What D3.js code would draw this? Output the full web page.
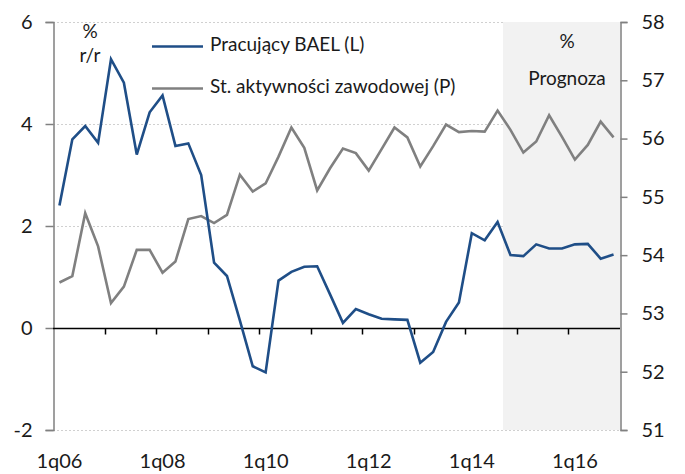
<!DOCTYPE html>
<html>
<head>
<meta charset="utf-8">
<script src="https://cdn.jsdelivr.net/npm/d3@7"></script>
<style>
  html, body { margin: 0; padding: 0; background: #fff; }
  svg { display: block; font-family: Lato, "Noto Sans", sans-serif; }
</style>
</head>
<body>
<svg id="chart" width="685" height="474"></svg>
<script>
// ---- data ----
const years = ["06","07","08","09","10","11","12","13","14","15","16"];
const quarters = ["1q","2q","3q","4q"];
const categories = [];
years.forEach(y => quarters.forEach(q => categories.push(q + y)));

const pracujacyBAEL = [
  2.40, 3.70, 3.96, 3.63, 5.27, 4.81, 3.40, 4.23, 4.56, 3.57, 3.62, 3.00,
  1.28, 1.02, 0.15, -0.75, -0.87, 0.93, 1.10, 1.20, 1.21, 0.66, 0.10, 0.37,
  0.27, 0.18, 0.17, 0.16, -0.68, -0.47, 0.12, 0.50, 1.86, 1.72, 2.08, 1.43,
  1.41, 1.64, 1.56, 1.56, 1.64, 1.65, 1.36, 1.44
];
const aktywnosc = [
  53.53, 53.64, 54.72, 54.15, 53.18, 53.46, 54.09, 54.09, 53.70, 53.89, 54.62, 54.67,
  54.55, 54.69, 55.38, 55.09, 55.23, 55.69, 56.19, 55.84, 55.11, 55.49, 55.83, 55.75,
  55.45, 55.82, 56.19, 56.02, 55.52, 55.87, 56.24, 56.11, 56.13, 56.12, 56.48, 56.15,
  55.76, 55.95, 56.40, 56.03, 55.64, 55.89, 56.29, 56.02
];
const leftTicks = [-2, 0, 2, 4, 6];
const rightTicks = [51, 52, 53, 54, 55, 56, 57, 58];
const xLabels = ["1q06", "1q08", "1q10", "1q12", "1q14", "1q16"];
const forecastStart = "4q14";
const seriesNames = ["Pracujący BAEL (L)", "St. aktywności zawodowej (P)"];

// ---- layout ----
const X0 = 53, X1 = 620, Y0 = 22, Y1 = 430;
const BLUE = "#1f4e87", GRAY = "#808080";

const svg = d3.select("#chart");
const x = d3.scaleBand().domain(categories).range([X0, X1]).padding(0);
const yL = d3.scaleLinear().domain([-2, 6]).range([Y1, Y0]);
const yR = d3.scaleLinear().domain([51, 58]).range([Y1, Y0]);
const cx = c => x(c) + x.bandwidth() / 2;
const fmt = d => String(d);

// gridlines
svg.append("g").selectAll("line").data(leftTicks.filter(d => d !== 0)).join("line")
  .attr("x1", X0).attr("x2", X1)
  .attr("y1", d => yL(d) + 0.5).attr("y2", d => yL(d) + 0.5)
  .attr("stroke", "#d0d0d0").attr("stroke-width", 1).attr("stroke-dasharray", "2,2");

// forecast shading
svg.append("rect")
  .attr("x", x(forecastStart) - 1).attr("y", Y0)
  .attr("width", X1 - x(forecastStart) + 1).attr("height", Y1 - Y0)
  .attr("fill", "#f2f2f2");

// shaded label
svg.append("text").attr("x", 567).attr("y", 43).attr("text-anchor", "middle")
  .attr("dominant-baseline", "middle").attr("font-size", 19).attr("fill", "#1a1a1a").text("%");
svg.append("text").attr("x", 567).attr("y", 80).attr("text-anchor", "middle")
  .attr("dominant-baseline", "middle").attr("font-size", 19).attr("fill", "#1a1a1a").text("Prognoza");

// left axis
const axL = svg.append("g").attr("transform", `translate(${X0 + 0.5},0)`)
  .call(d3.axisLeft(yL).tickValues(leftTicks).tickSize(8).tickPadding(13).tickFormat(fmt));
axL.select(".domain").attr("stroke", GRAY).attr("stroke-width", 1.5);
axL.selectAll(".tick line").attr("stroke", GRAY).attr("stroke-width", 1.5);
axL.selectAll("text").attr("font-size", 20).attr("fill", "#1a1a1a").attr("font-family", "Lato, sans-serif");

// right axis
const axR = svg.append("g").attr("transform", `translate(${X1 + 0.5},0)`)
  .call(d3.axisRight(yR).tickValues(rightTicks).tickSize(7).tickPadding(14).tickFormat(fmt));
axR.select(".domain").attr("stroke", GRAY).attr("stroke-width", 1.5);
axR.selectAll(".tick line").attr("stroke", GRAY).attr("stroke-width", 1.5);
axR.selectAll("text").attr("font-size", 20).attr("fill", "#1a1a1a").attr("font-family", "Lato, sans-serif");

// zero axis with year ticks
const y0 = Math.round(yL(0)) + 0.5;
svg.append("line").attr("x1", X0).attr("x2", X1).attr("y1", y0).attr("y2", y0)
  .attr("stroke", "#000").attr("stroke-width", 1.5);
const yearStarts = categories.filter((c, i) => i % 4 === 0 && i > 0);
svg.append("g").selectAll("line").data(yearStarts).join("line")
  .attr("x1", d => Math.round(x(d)) + 0.5).attr("x2", d => Math.round(x(d)) + 0.5)
  .attr("y1", y0).attr("y2", y0 + 6).attr("stroke", "#000").attr("stroke-width", 1.5);

// x labels
svg.append("g").selectAll("text").data(xLabels).join("text")
  .attr("x", d => cx(d)).attr("y", 463)
  .attr("text-anchor", "middle").attr("dominant-baseline", "middle")
  .attr("font-size", 20).attr("fill", "#1a1a1a").text(d => d);

// lines
const lineL = d3.line().x((d, i) => cx(categories[i])).y(d => yL(d));
const lineR = d3.line().x((d, i) => cx(categories[i])).y(d => yR(d));
svg.append("path").datum(aktywnosc).attr("d", lineR)
  .attr("fill", "none").attr("stroke", GRAY).attr("stroke-width", 2.6).attr("stroke-linejoin", "miter");
svg.append("path").datum(pracujacyBAEL).attr("d", lineL)
  .attr("fill", "none").attr("stroke", BLUE).attr("stroke-width", 2.6).attr("stroke-linejoin", "miter");

// unit label
svg.append("text").attr("x", 90).attr("y", 33).attr("text-anchor", "middle")
  .attr("dominant-baseline", "middle").attr("font-size", 19).attr("fill", "#1a1a1a").text("%");
svg.append("text").attr("x", 90).attr("y", 57).attr("text-anchor", "middle")
  .attr("dominant-baseline", "middle").attr("font-size", 19).attr("fill", "#1a1a1a").text("r/r");

// legend
const legend = [
  { name: seriesNames[0], color: BLUE, y: 46.5 },
  { name: seriesNames[1], color: GRAY, y: 88.5 }
];
const lg = svg.append("g");
lg.selectAll("line").data(legend).join("line")
  .attr("x1", 152).attr("x2", 203).attr("y1", d => d.y).attr("y2", d => d.y)
  .attr("stroke", d => d.color).attr("stroke-width", 2.6);
lg.selectAll("text").data(legend).join("text")
  .attr("x", 210).attr("y", d => d.y).attr("dominant-baseline", "middle")
  .attr("font-size", 19).attr("fill", "#1a1a1a").text(d => d.name);
</script>
</body>
</html>
